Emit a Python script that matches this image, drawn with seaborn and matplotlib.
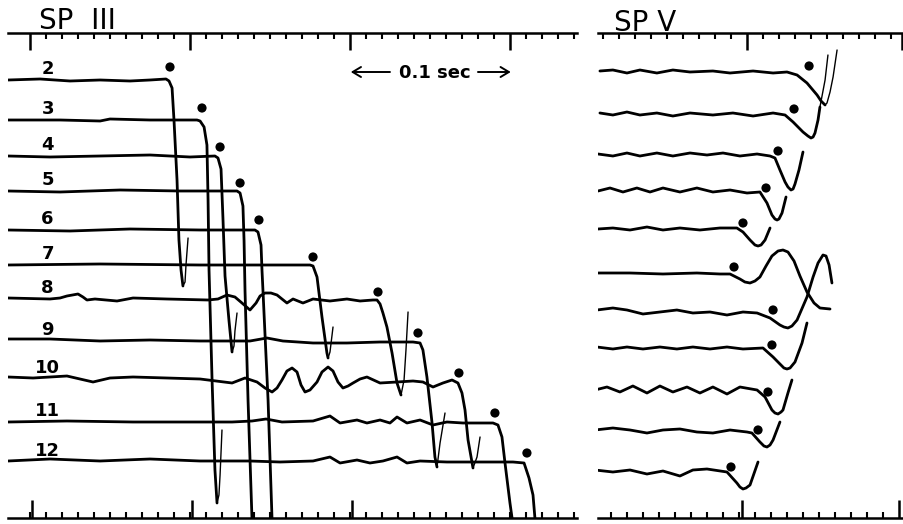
import matplotlib
matplotlib.use("Agg")
import matplotlib.pyplot as plt
import numpy as np
import pandas as pd
import seaborn as sns
from matplotlib.ticker import FixedLocator

# ---------------- SP III : time (ms), downward deflection (record units) ----------------
sp3_labels = ["2", "3", "4", "5", "6", "7", "8", "9", "10", "11", "12"]
sp3_offsets = [80, 120, 156, 191, 230, 265, 299, 341, 379, 422, 462]

sp3_t2 = [-13.8, 6.3, 25, 43.8, 62.5, 75, 85, 86.9, 88.8, 90, 91.9, 93.1, 94.4, 95.6]
sp3_a2 = [0, -1, 1, 0, 1, 0, -1, 1, 8, 40, 100, 160, 190, 206]
sp3_t2_tail = [95.6, 96.9, 97.5, 98.8]
sp3_a2_tail = [206, 202, 185, 158]

sp3_t3 = [-13.8, 18.8, 43.8, 50, 75, 104.4, 106.3, 108.8, 110.6, 111.3, 111.9, 113.8, 115.6, 116.9]
sp3_a3 = [0, 0, 1, -1, 0, 0, 1, 7, 25, 80, 150, 260, 350, 383]
sp3_t3_tail = [116.9, 118.1, 118.8, 120]
sp3_a3_tail = [383, 375, 355, 310]

sp3_t4 = [-13.8, 12.5, 43.8, 75, 100, 115.6, 117.5, 119.4, 120.6, 121.9, 124.4, 126.3]
sp3_a4 = [0, 1, 0, -1, 1, 0, 2, 13, 62, 120, 165, 196]
sp3_t4_tail = [126.3, 127.5, 128.1, 129.4]
sp3_a4_tail = [196, 190, 175, 157]

sp3_t5 = [-13.8, 18.8, 56.3, 93.8, 129.4, 131.3, 133.1, 133.8, 134.4, 136.3, 138.8]
sp3_a5 = [0, 1, -1, 0, 0, 2, 15, 50, 100, 210, 330]

sp3_t6 = [-13.8, 25, 62.5, 106.3, 140.6, 142.5, 144.4, 145, 145.6, 148.8, 151.3]
sp3_a6 = [0, 1, -1, 0, 0, 2, 15, 40, 60, 170, 290]

sp3_t7 = [-13.8, 43.8, 106.3, 175, 176.9, 179.4, 182.5, 185.6, 186.3]
sp3_a7 = [0, -1, 0, 0, 1, 12, 52, 88, 93]
sp3_t7_tail = [186.3, 187.5, 188.8, 189.4]
sp3_a7_tail = [93, 87, 70, 62]

sp3_t8 = [-13.8, 12.5, 18.8, 23.1, 30, 33.1, 35.6, 40.6, 54.4, 64.4, 85.6, 111.3, 117.5,
          123.1, 128.1, 132.5, 137.5, 141.3, 143.8, 146.9, 150.6, 154.4, 157.5, 160.6,
          164.4, 167.5, 170.6, 173.8, 176.9, 187.5, 198.1, 206.3, 214.4, 216.9,
          218.8, 220.6, 223.1, 226.3, 229.4, 231.9]
sp3_a8 = [-1, 0, -1, -3, -5, -2, 1, 0, 2, -1, 0, 1, 0, -4, -2, 4, 11, 4, -3, -6, -6, -4, 0,
          4, 0, 2, 4, 2, 0, 2, 0, 2, 1, 1, 5, 14, 28, 54, 84, 96]
sp3_t8_tail = [231.9, 233.8, 235, 236.3]
sp3_a8_tail = [96, 81, 51, 13]

sp3_t9 = [-13.8, 12.5, 43.8, 75, 106.3, 137.5, 148.1, 158.1, 176.9, 198.1, 218.8, 239.4,
          243.8, 245.6, 248.1, 251.3, 253.1, 254.4]
sp3_a9 = [-2, -2, 0, -1, 0, 0, -3, 0, 2, 2, 1, 1, 2, 9, 36, 82, 116, 126]
sp3_t9_tail = [254.4, 256.3, 259.4]
sp3_a9_tail = [126, 102, 72]

sp3_t10 = [-13.8, 1.9, 23.1, 39.4, 50, 64.4, 85.6, 106.3, 126.3, 134.4, 141.9, 146.9, 151.3,
           154.4, 157.5, 160.6, 163.8, 166.9, 169.4, 171.9, 175, 179.4, 182.5, 186.3,
           189.4, 192.5, 195.6, 198.8, 201.9, 206.3, 210.6, 218.8, 229.4, 239.4, 245.6,
           251.9, 258.1, 263.8, 267.5, 270, 271.9, 273.8, 276.9]
sp3_a10 = [-2, -1, -3, 3, -1, -2, -1, 0, 4, -1, 3, 9, 13, 9, 1, -8, -11, -7, 6, 13, 11, 3,
           -7, -12, -8, 3, 9, 7, 4, 0, -2, 4, 3, 2, 3, 8, 4, 1, 4, 14, 31, 61, 89]
sp3_t10_tail = [276.9, 279.4, 281.3]
sp3_a10_tail = [89, 78, 58]

sp3_t11 = [-13.8, 23.1, 64.4, 106.3, 126.3, 138.8, 147.5, 157.5, 176.9, 187.5, 193.8, 204.4,
           210.6, 218.8, 225, 229.4, 235.6, 243.8, 251.9, 260.6, 270.6, 289.4, 292.5, 295,
           296.9, 300, 301.3]
sp3_a11 = [0, -1, 0, 0, 0, -1, -3, 0, -1, -6, 1, -2, 1, -2, 1, -5, 1, -2, 3, 0, 1, 1, 3, 15,
           41, 81, 96]

sp3_t12 = [-13.8, 12.5, 43.8, 75, 106.3, 137.5, 156.3, 176.9, 187.5, 193.8, 204.4, 212.5,
           220.6, 229.4, 235.6, 243.8, 260.6, 281.3, 301.9, 308.8, 311.9, 314.4, 315.6]
sp3_a12 = [-1, -3, -1, -3, -1, -1, 0, -1, -5, 1, -2, 1, -1, -5, 1, -1, 0, 0, 0, 1, 16, 33, 56]

sp3_pick_t = [87.5, 107.5, 118.8, 131.3, 143.1, 176.9, 217.5, 242.5, 268.1, 290.6, 310.6]
sp3_pick_a = [-13, -12, -9, -8, -10, -8, -7, -8, -6, -9, -9]

# ---------------- SP V ----------------
sp5_offsets = [72, 113, 155, 190, 228, 273, 310, 347, 388, 430, 470]

sp5_t1 = [-91.9, -83.8, -75, -66.9, -56.3, -46.3, -35.6, -21.3, -10.6, 3.8, 16.3, 25, 31.3,
          37.5, 43.8, 46.3, 48.8]
sp5_a1 = [-1, -2, 1, -2, 1, -2, 0, -1, 1, -1, 1, 0, 3, 11, 23, 29, 33]
sp5_t1_tail = [48.8, 50, 51.9, 53.8, 56.3]
sp5_a1_tail = [33, 31, 20, 5, -22]

sp5_t2 = [-91.9, -83.8, -75, -66.9, -56.3, -46.3, -35.6, -21.3, -8.8, 3.8, 16.3, 23.8, 28.8,
          35, 38.1, 40, 41.3, 42.5, 44.4, 45.6]
sp5_a2 = [0, 2, -1, 2, 0, 3, 0, 2, 0, 3, 0, 2, 9, 19, 23, 25, 24, 20, 7, -6]
sp5_t2_tail = [45.6, 48.8, 50.6]
sp5_a2_tail = [-6, -33, -58]

sp5_t3 = [-93.1, -83.8, -75, -66.9, -56.3, -46.3, -35.6, -25, -15, -4.4, 6.3, 14.4, 17.5,
          20.6, 23.8, 25.6, 27.5, 28.8, 30, 32.5, 35]
sp5_a3 = [-1, 1, -2, 1, -2, 1, -2, 0, -2, 1, -1, 1, 3, 15, 27, 32, 35, 34, 29, 15, -3]

sp5_t4 = [-93.1, -85.6, -77.5, -68.8, -60.6, -52.5, -41.9, -31.3, -21.3, -10.6, 0, 8.1, 12.5,
          15.6, 17.5, 18.8, 20, 21.9, 24.4]
sp5_a4 = [1, -2, 2, -2, 2, -2, 2, -2, 2, 0, 3, 2, 13, 25, 29, 30, 29, 23, 7]

sp5_t5 = [-93.1, -83.8, -73.1, -62.5, -52.5, -41.9, -29.4, -16.9, -6.3, -2.5, 1.9, 5, 6.9,
          8.8, 11.3, 14.4]
sp5_a5 = [1, 0, 2, -1, 2, 0, 2, 0, 0, 4, 12, 17, 18, 17, 12, 0]

sp5_t6 = [-93.8, -73.1, -52.5, -31.3, -16.9, -10.6, -4.4, -1.3, 1.9, 5, 8.1, 11.9, 15.6,
          19.4, 22.5, 25.6, 29.4, 33.1, 37.5, 41.9, 45.6, 51.9]
sp5_a6 = [0, 0, 1, 0, 1, 1, 6, 9, 10, 8, 4, -7, -17, -22, -23, -21, -12, 3, 19, 30, 35, 36]

sp5_t7 = [-93.8, -83.8, -75, -65, -54.4, -43.8, -33.8, -23.1, -12.5, -2.5, 6.3, 14.4, 20.6,
          23.1, 25.6, 28.1, 31.3, 37.5, 41.3, 44.4, 47.5, 49.4, 51.3, 53.1]
sp5_a7 = [0, -2, 0, 4, 2, 0, 3, 2, 5, 2, 3, 8, 15, 17, 18, 16, 10, -13, -33, -47, -55, -54,
          -45, -27]

sp5_t8 = [-93.8, -83.8, -75, -65, -54.4, -43.8, -33.8, -23.1, -12.5, -2.5, 10, 16.3, 20.6,
          23.1, 25, 26.9, 30, 34.4, 37.5]
sp5_a8 = [0, 2, 0, 2, 0, 2, 0, 2, 0, 2, 1, 10, 17, 21, 22, 21, 15, -4, -24]

sp5_t9 = [-95, -87.5, -79.4, -71.3, -62.5, -54.4, -46.3, -37.5, -29.4, -21.3, -12.5, -4.4,
          6.3, 11.3, 15.6, 17.5, 19.4, 21.3, 22.5, 25.6, 28.1]
sp5_a9 = [2, -1, 4, -2, 5, -2, 4, -1, 5, -1, 6, -1, 2, 9, 22, 25, 26, 24, 22, 5, -8]

sp5_t10 = [-95, -83.8, -73.1, -62.5, -52.5, -41.9, -31.3, -21.3, -10.6, 0, 3.1, 8.1, 10.6,
           12.5, 14.4, 16.3, 20.6]
sp5_a10 = [0, -2, 0, 3, 0, -1, 2, 3, 0, 2, 3, 12, 16, 17, 15, 10, -8]

sp5_t11 = [-95, -83.8, -73.1, -62.5, -52.5, -41.9, -33.8, -25, -12.5, -6.3, -4.4, -2.5, -0.6,
           1.9, 6.9]
sp5_a11 = [0, 2, 0, 4, 1, 6, 0, -1, 2, 13, 17, 19, 18, 15, -8]

sp5_pick_t = [38.8, 29.4, 19.4, 11.9, -2.5, -8.1, 16.3, 15.6, 13.1, 6.9, -10]
sp5_pick_a = [-6, -4, -4, -2, -5, -6, 0, -2, 4, 0, -3]

# ---------------- assemble long tables ----------------
sp3_main = [(sp3_t2, sp3_a2), (sp3_t3, sp3_a3), (sp3_t4, sp3_a4), (sp3_t5, sp3_a5),
            (sp3_t6, sp3_a6), (sp3_t7, sp3_a7), (sp3_t8, sp3_a8), (sp3_t9, sp3_a9),
            (sp3_t10, sp3_a10), (sp3_t11, sp3_a11), (sp3_t12, sp3_a12)]
sp3_tails = {0: (sp3_t2_tail, sp3_a2_tail), 1: (sp3_t3_tail, sp3_a3_tail),
             2: (sp3_t4_tail, sp3_a4_tail), 5: (sp3_t7_tail, sp3_a7_tail),
             6: (sp3_t8_tail, sp3_a8_tail), 7: (sp3_t9_tail, sp3_a9_tail),
             8: (sp3_t10_tail, sp3_a10_tail)}
sp5_main = [(sp5_t1, sp5_a1), (sp5_t2, sp5_a2), (sp5_t3, sp5_a3), (sp5_t4, sp5_a4),
            (sp5_t5, sp5_a5), (sp5_t6, sp5_a6), (sp5_t7, sp5_a7), (sp5_t8, sp5_a8),
            (sp5_t9, sp5_a9), (sp5_t10, sp5_a10), (sp5_t11, sp5_a11)]
sp5_tails = {0: (sp5_t1_tail, sp5_a1_tail), 1: (sp5_t2_tail, sp5_a2_tail)}


def table(traces, offsets):
    rows = []
    items = traces.items() if isinstance(traces, dict) else enumerate(traces)
    for k, (t, a) in items:
        for ti, ai in zip(t, a):
            rows.append({"trace": k, "t": ti, "y": offsets[k] + ai})
    return pd.DataFrame(rows)


sns.set_theme(style="white")
plt.rcParams["font.family"] = ["DejaVu Sans"]

W, H = 904, 524
fig = plt.figure(figsize=(W / 100, H / 100), dpi=100)
fig.patch.set_facecolor("white")

TOP_PX, BOT_PX = 33, 518
ax3 = fig.add_axes([8 / W, (H - BOT_PX) / H, 569 / W, (BOT_PX - TOP_PX) / H])
ax5 = fig.add_axes([598 / W, (H - BOT_PX) / H, 305 / W, (BOT_PX - TOP_PX) / H])

LW = 2.0
for ax, main, tails, offs, pt, pa in [
        (ax3, sp3_main, sp3_tails, sp3_offsets, sp3_pick_t, sp3_pick_a),
        (ax5, sp5_main, sp5_tails, sp5_offsets, sp5_pick_t, sp5_pick_a)]:
    ax.set_facecolor("white")
    dm = table(main, offs)
    sns.lineplot(data=dm, x="t", y="y", units="trace", estimator=None, sort=False,
                 color="black", linewidth=LW, ax=ax, legend=False,
                 solid_joinstyle="round", solid_capstyle="round")
    dt = table(tails, offs)
    sns.lineplot(data=dt, x="t", y="y", units="trace", estimator=None, sort=False,
                 color="black", linewidth=1.0, ax=ax, legend=False,
                 solid_joinstyle="round", solid_capstyle="round")
    sns.scatterplot(x=pt, y=[o + a for o, a in zip(offs, pa)], color="black", s=44,
                    edgecolor="none", ax=ax, legend=False)
    ax.set_ylim(BOT_PX, TOP_PX)
    ax.set_yticks([])
    ax.set_xlabel("")
    ax.set_ylabel("")
    for s in ["left", "right", "top"]:
        ax.spines[s].set_visible(False)
    ax.spines["bottom"].set_linewidth(1.8)
    ax.spines["bottom"].set_color("black")

ax3.set_xlim(-13.75, 341.9)
ax5.set_xlim(-93.1, 97.5)

# bottom axes ticks
ax3.xaxis.set_major_locator(FixedLocator([1, 101, 201]))
ax3.xaxis.set_minor_locator(FixedLocator(np.arange(0, 341, 10)))
ax5.xaxis.set_major_locator(FixedLocator([-3, 95]))
ax5.xaxis.set_minor_locator(FixedLocator(np.arange(-95, 96, 10)))
for ax in (ax3, ax5):
    ax.tick_params(axis="x", which="major", direction="in", length=13, width=1.8,
                   bottom=True, top=False, labelbottom=False, color="black")
    ax.tick_params(axis="x", which="minor", direction="in", length=4, width=1.5,
                   bottom=True, top=False, labelbottom=False, color="black")

# top axes (time scale)
for ax, majors, minors in [(ax3, [0, 100, 200, 300], np.arange(0, 341, 10)),
                           (ax5, [0, 97], np.arange(-90, 91, 10))]:
    sec = ax.secondary_xaxis("top")
    sec.xaxis.set_major_locator(FixedLocator(majors))
    sec.xaxis.set_minor_locator(FixedLocator(minors))
    sec.tick_params(axis="x", which="major", direction="in", length=12, width=1.8,
                    labeltop=False, color="black")
    sec.tick_params(axis="x", which="minor", direction="in", length=4, width=1.5,
                    labeltop=False, color="black")
    sec.spines["top"].set_linewidth(1.8)
    sec.spines["top"].set_color("black")

# trace numbers
for lab, off in zip(sp3_labels, sp3_offsets):
    ax3.text(11, off - 2, lab, ha="center", va="bottom", fontsize=13, fontweight="bold",
             color="black")

# time-scale annotation
ax3.text(253, 73, "0.1 sec", ha="center", va="center", fontsize=13, fontweight="bold",
         color="black")
ax3.annotate("", xy=(200.5, 72), xytext=(225, 72),
             arrowprops=dict(arrowstyle="->,head_length=0.5,head_width=0.3", lw=1.4,
                             color="black", shrinkA=0, shrinkB=0))
ax3.annotate("", xy=(300.5, 72), xytext=(280, 72),
             arrowprops=dict(arrowstyle="->,head_length=0.5,head_width=0.3", lw=1.4,
                             color="black", shrinkA=0, shrinkB=0))

# panel titles
fig.text(39 / W, 1 - 29 / H, "SP  III", ha="left", va="baseline", fontsize=20, color="black")
fig.text(614 / W, 1 - 31 / H, "SP V", ha="left", va="baseline", fontsize=20, color="black")

fig.savefig("out.png", dpi=100, facecolor="white")
